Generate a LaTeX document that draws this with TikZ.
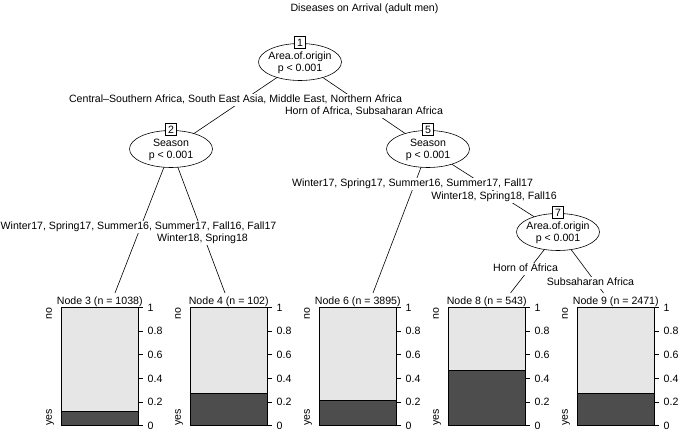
\documentclass[tikz,border=0pt]{standalone}
\usepackage{fontspec}
\setmainfont{Liberation Sans}
\usetikzlibrary{shapes.geometric,backgrounds}
\newcommand{\fsz}{\fontsize{10.6}{12.6}\selectfont}
\definecolor{nocol}{HTML}{E6E6E6}
\definecolor{yescol}{HTML}{4D4D4D}
\begin{document}
\begin{tikzpicture}[x=1pt,y=-1pt,
  txt/.style={font=\fsz, inner sep=0pt, text height=7.6pt, text depth=2.2pt},
  ticktxt/.style={font=\fsz, inner sep=0pt, text height=7.6pt, text depth=0pt},
  lbl/.style={txt, fill=white, inner xsep=1pt, inner ysep=1.5pt},
  innernode/.style={ellipse, draw, fill=white, minimum width=83pt, minimum height=37pt, inner sep=0pt, line width=0.6pt},
  idbox/.style={font=\fsz, draw, fill=white, minimum width=11pt, minimum height=12pt, inner sep=0pt, line width=0.6pt, text height=7.6pt, text depth=0pt},
  conn/.style={line width=0.6pt},
  frame/.style={line width=0.6pt}
]
\useasboundingbox (0,0) rectangle (685,430);

% title
\node[txt] (title) at (364.5,8.5) {Diseases on Arrival (adult men)};

% inner nodes
\node[innernode] (n1) at (300,62) {};
\node[innernode] (n2) at (171,149) {};
\node[innernode] (n5) at (428,149) {};
\node[innernode] (n7) at (558,232) {};
\foreach \n/\t in {n1/Area.of.origin, n2/Season, n5/Season, n7/Area.of.origin}{
  \node[txt] (\n a) at ([yshift=5.3pt]\n.center) {\t};
  \node[txt] (\n b) at ([yshift=-7.3pt]\n.center) {p < 0.001};
}
\node[idbox] (b1) at (300,42.5) {1};
\node[idbox] (b2) at (171,129.5) {2};
\node[idbox] (b5) at (428,129.5) {5};
\node[idbox] (b7) at (558,212.5) {7};

% edge labels
\node[lbl] (l12) at (235.5,100) {Central–Southern Africa, South East Asia, Middle East, Northern Africa};
\node[lbl] (l15) at (364,112) {Horn of Africa, Subsaharan Africa};
\node[lbl] (l23) at (138.5,227) {Winter17, Spring17, Summer16, Summer17, Fall16, Fall17};
\node[lbl] (l24) at (202.5,239) {Winter18, Spring18};
\node[lbl] (l56) at (412.5,184) {Winter17, Spring17, Summer16, Summer17, Fall17};
\node[lbl] (l57) at (494,197) {Winter18, Spring18, Fall16};
\node[lbl] (l78) at (525.5,269) {Horn of Africa};
\node[lbl] (l79) at (590.5,283) {Subsaharan Africa};

% terminal nodes
\foreach \k/\id/\n/\f/\ex in {0/3/1038/0.118/115, 1/4/102/0.274/225, 2/6/3895/0.217/373, 3/8/543/0.465/510.5, 4/9/2471/0.274/603.5}{
  \pgfmathsetmacro\L{61+129*\k}
  \pgfmathsetmacro\R{\L+77.5}
  \pgfmathsetmacro\C{\L+38.75}
  \pgfmathsetmacro\Y{425.7-118.4*\f}
  \fill[nocol] (\L,307.3) rectangle (\R,425.7);
  \fill[yescol] (\L,\Y) rectangle (\R,425.7);
  \draw[frame] (\L,\Y) -- (\R,\Y);
  \draw[frame] (\L,307.3) rectangle (\R,425.7);
  \node[txt] (h\id) at (\C,302) {Node \id{} (n = \n)};
  \coordinate (e\id) at (\ex,293);
  \node[txt, rotate=90, anchor=base east] (no\id) at (\L-9.2,307.3) {no};
  \node[txt, rotate=90, anchor=base west] (yes\id) at (\L-9.2,425.7) {yes};
  \foreach \t in {0,0.2,0.4,0.6,0.8,1}{
    \pgfmathsetmacro\ty{425.7-118.4*\t}
    \draw[frame] (\R,\ty) -- (\R+4,\ty);
    \node[ticktxt, anchor=west] (t\id-\t) at (\R+9,\ty) {\t};
  }
}

% connectors
\begin{scope}[on background layer]
  \draw[conn] (n1.center) -- (n2.center);
  \draw[conn] (n1.center) -- (n5.center);
  \draw[conn] (n2.center) -- (e3);
  \draw[conn] (n2.center) -- (e4);
  \draw[conn] (n5.center) -- (e6);
  \draw[conn] (n5.center) -- (n7.center);
  \draw[conn] (n7.center) -- (e8);
  \draw[conn] (n7.center) -- (e9);
\end{scope}
\end{tikzpicture}
\end{document}
